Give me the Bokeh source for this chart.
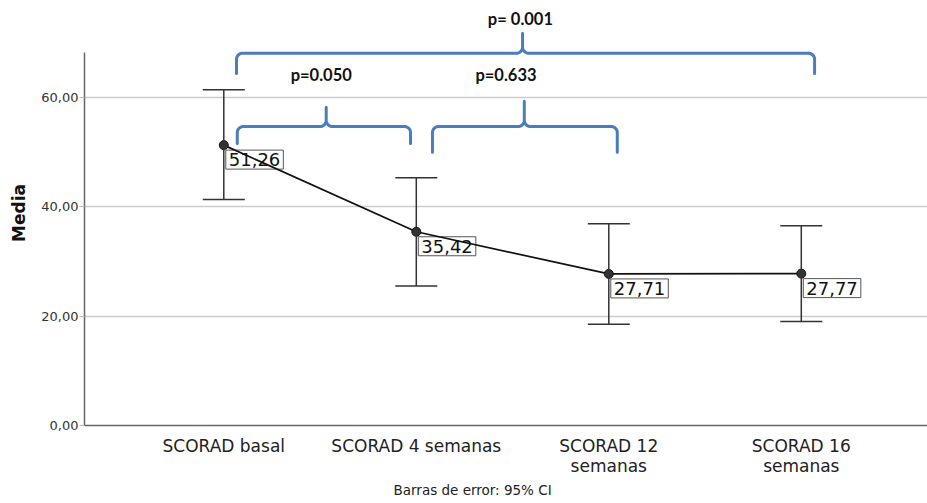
import numpy as np
from bokeh.plotting import figure
from bokeh.models import (Range1d, FixedTicker, Whisker, TeeHead,
                          ColumnDataSource, Title)
from bokeh.core.properties import value
from bokeh.embed import file_html
from bokeh.resources import INLINE

# --- data -------------------------------------------------------------
categories = ["SCORAD basal", "SCORAD 4 semanas",
              "SCORAD 12\nsemanas", "SCORAD 16\nsemanas"]
means = [51.26, 35.42, 27.71, 27.77]
ci_lower = [41.3, 25.5, 18.5, 19.0]
ci_upper = [61.4, 45.3, 36.9, 36.5]
y_ticks = [0, 20, 40, 60]
y_tick_labels = ["0,00", "20,00", "40,00", "60,00"]
p_values = ["p=0.050", "p=0.633", "p= 0.001"]

x = list(range(len(categories)))
mean_labels = [f"{m:.2f}".replace(".", ",") for m in means]

src = ColumnDataSource(dict(x=x, mean=means, lower=ci_lower,
                            upper=ci_upper, label=mean_labels))

# --- figure -----------------------------------------------------------
p = figure(width=927, height=503, output_backend="svg", toolbar_location=None,
           x_range=Range1d(-0.7236, 3.6556), y_range=Range1d(0, 77.7),
           min_border_left=84, min_border_right=0, min_border_top=0,
           min_border_bottom=78)
p.outline_line_color = None
p.background_fill_color = "white"
p.border_fill_color = "white"

# x axis: category names only
xa = p.xaxis[0]
xa.ticker = FixedTicker(ticks=x)
xa.major_label_overrides = {i: c for i, c in zip(x, categories)}
xa.major_tick_line_color = None
xa.minor_tick_line_color = None
xa.axis_line_color = "#666666"
xa.axis_line_width = 1.5
xa.major_label_standoff = 4
xa.major_label_text_font = "DejaVu Sans"
xa.major_label_text_font_size = "17px"
xa.major_label_text_line_height = 1.0
xa.major_label_text_color = "#222222"

# y axis
ya = p.yaxis[0]
ya.ticker = FixedTicker(ticks=y_ticks)
ya.major_label_overrides = {t: s for t, s in zip(y_ticks, y_tick_labels)}
ya.bounds = (0, 68.2)
ya.minor_tick_line_color = None
ya.major_tick_in = 0
ya.major_tick_out = 5
ya.major_tick_line_color = "#bbbbbb"
ya.major_label_standoff = 1
ya.major_label_text_font = "DejaVu Sans"
ya.major_label_text_font_size = "13px"
ya.major_label_text_color = "#333333"
ya.axis_line_color = "#666666"
ya.axis_line_width = 1.5
ya.axis_label = "Media"
ya.axis_label_text_font = "DejaVu Sans"
ya.axis_label_text_font_size = "17px"
ya.axis_label_text_font_style = "bold"
ya.axis_label_text_color = "#111111"
ya.axis_label_standoff = 9

p.xgrid.visible = False
p.ygrid.ticker = FixedTicker(ticks=[20, 40, 60])
p.ygrid.grid_line_color = "#cccccc"
p.ygrid.grid_line_width = 1.5

# footnote under the category axis
p.add_layout(Title(text="Barras de error: 95% CI", align="left", offset=309,
                   text_font="DejaVu Sans", text_font_size="13.5px",
                   text_font_style="normal", text_color="#222222",
                   standoff=3), "below")

# --- 95% CI error bars -------------------------------------------------
head_kw = dict(size=42, line_color="#333333", line_width=1.5)
p.add_layout(Whisker(base="x", lower="lower", upper="upper", source=src,
                     line_color="#333333", line_width=1.5, level="glyph",
                     upper_head=TeeHead(**head_kw),
                     lower_head=TeeHead(**head_kw)))

# boxed mean labels
p.text(x="x", y="mean", text="label", source=src,
       text_align="left", text_baseline="top", x_offset=2, y_offset=5,
       padding=3, background_fill_color="white",
       border_line_color="#555555", border_line_width=1,
       text_font=value("DejaVu Sans"), text_font_size="18px",
       text_color="#111111")

# mean line and points
p.line(x="x", y="mean", source=src, line_color="#111111", line_width=1.7)
p.scatter(x="x", y="mean", source=src, size=9, fill_color="#333333",
          line_color="#111111")


# --- comparison braces -------------------------------------------------
def brace(x0, x1, xm, yh, yl, yr, ypk, rx=0.032, ry=1.1, n=12):
    t = np.linspace(0, np.pi / 2, n)
    xs, ys = [x0], [yl]
    # left corner
    a = np.pi - t
    xs += list(x0 + rx + rx * np.cos(a)); ys += list(yh - ry + ry * np.sin(a))
    # up into the cusp
    a = 1.5 * np.pi + t
    xs += list(xm - rx + rx * np.cos(a)); ys += list(yh + ry + ry * np.sin(a))
    xs += [xm]; ys += [ypk]
    # back down the other side of the cusp
    a = np.pi + t
    xs += list(xm + rx + rx * np.cos(a)); ys += list(yh + ry + ry * np.sin(a))
    # right corner
    a = np.pi / 2 - t
    xs += list(x1 - rx + rx * np.cos(a)); ys += list(yh - ry + ry * np.sin(a))
    xs += [x1]; ys += [yr]
    return xs, ys


brace_geom = [
    # x0,    x1,    xm,    y_h,   y_left, y_right, y_peak
    (0.070, 0.970, 0.532, 54.66, 51.55, 51.55, 58.2),
    (1.084, 2.044, 1.561, 54.66, 49.96, 49.96, 59.3),
    (0.066, 3.069, 1.552, 68.06, 64.35, 64.35, 71.7),
]
for g in brace_geom:
    bx, by = brace(*g)
    p.line(bx, by, line_color="#4a7ebb", line_width=3,
           line_join="round", line_cap="round")

p.text(x=[0.506, 1.466, 1.541], y=[64.17, 64.17, 74.4], text=p_values,
       text_align="center", text_baseline="middle",
       text_font=value("Lato"), text_font_style="bold",
       text_font_size="16.5px", text_color="#111111")

open("out.html", "w").write(file_html(p, INLINE))
